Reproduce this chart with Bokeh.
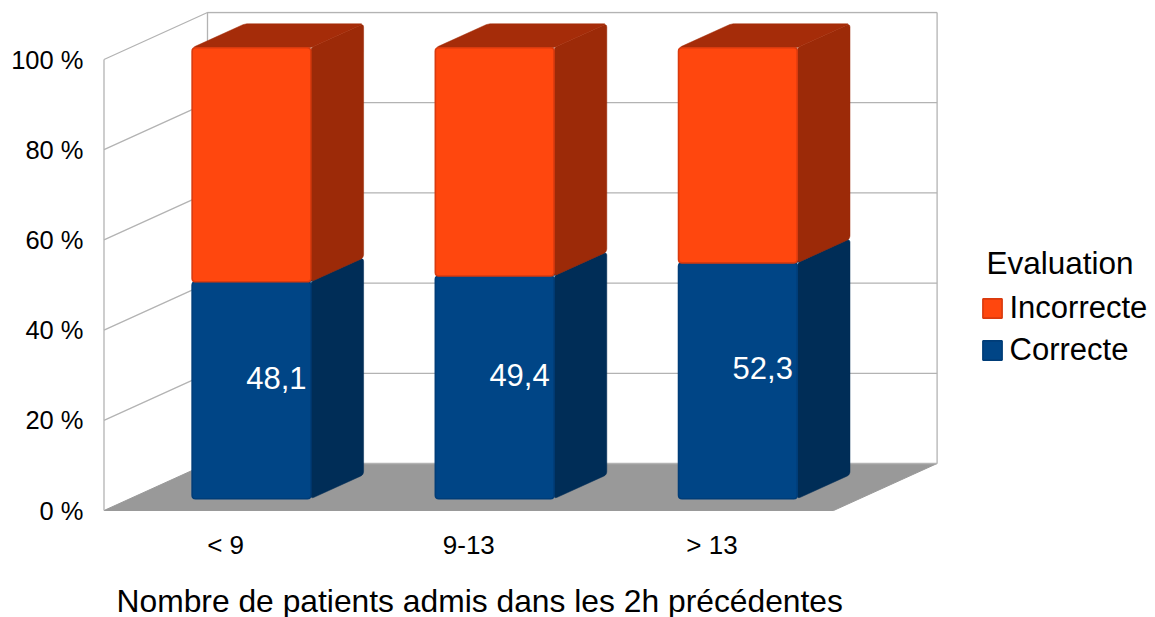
from bokeh.plotting import figure
from bokeh.embed import file_html
from bokeh.resources import INLINE
from bokeh.models import Range1d, FixedTicker, Legend, LegendItem, Label
from bokeh.core.properties import value

categories = ["< 9", "9-13", "> 13"]
correcte = [48.1, 49.4, 52.3]
incorrecte = [51.9, 50.6, 47.7]
labels = ["48,1", "49,4", "52,3"]
y_ticks = [0, 20, 40, 60, 80, 100]
x_title = "Nombre de patients admis dans les 2h précédentes"
legend_title = "Evaluation"

PX_X = 243.2            # pixels per category
PX_Y = 4.51             # pixels per percent
DX = 103.5 / PX_X       # oblique depth, in category units
DY = 47 / PX_Y          # oblique depth, in percent units
BAR_W = 0.488
FONT = "Liberation Sans"
GRID = "#b3b3b3"

p = figure(width=1155, height=617, output_backend="svg", toolbar_location=None,
           x_range=Range1d(-1.5 / PX_X, 1051.5 / PX_X),
           y_range=Range1d(-107 / PX_Y, 499 / PX_Y),
           min_border_left=102, min_border_right=0, min_border_top=11, min_border_bottom=0)
p.outline_line_color = None
p.grid.visible = False
p.background_fill_color = None
p.border_fill_color = "white"


def proj(x, y, d):
    """Oblique projection of (category position, percent, depth 0..1)."""
    return x + d * DX, y + d * DY


def rounded(pts, r=3.5):
    """Round polygon corners; pts in data units, radius in pixels."""
    out_x, out_y = [], []
    n = len(pts)
    for i in range(n):
        x0, y0 = pts[i - 1]
        x1, y1 = pts[i]
        x2, y2 = pts[(i + 1) % n]
        ax, ay = (x0 - x1) * PX_X, (y0 - y1) * PX_Y
        bx, by = (x2 - x1) * PX_X, (y2 - y1) * PX_Y
        la, lb = (ax * ax + ay * ay) ** .5, (bx * bx + by * by) ** .5
        ra, rb = min(r, la / 2) / la, min(r, lb / 2) / lb
        sx, sy = x1 + (x0 - x1) * ra, y1 + (y0 - y1) * ra
        ex, ey = x1 + (x2 - x1) * rb, y1 + (y2 - y1) * rb
        for k in range(5):
            t = k / 4
            out_x.append((1 - t) ** 2 * sx + 2 * t * (1 - t) * x1 + t * t * ex)
            out_y.append((1 - t) ** 2 * sy + 2 * t * (1 - t) * y1 + t * t * ey)
    return out_x, out_y


# floor
fx, fy = zip(proj(0, 0, 0), proj(3, 0, 0), proj(3, 0, 1), proj(0, 0, 1))
p.patch(list(fx), list(fy), fill_color="#999999", line_color="#999999", line_width=1)

# walls
for t in y_ticks:
    xs, ys = zip(proj(0, t, 0), proj(0, t, 1), proj(3, t, 1))
    if t == 0:
        xs, ys = xs[1:], ys[1:]
    p.line(list(xs), list(ys), line_color=GRID, line_width=1.3)
for x, d in ((0, 0), (0, 1), (3, 1)):
    xs, ys = zip(proj(x, 0, d), proj(x, 100, d))
    p.line(list(xs), list(ys), line_color=GRID, line_width=1.3)

D0, D1 = 0.25, 0.76


def box(i, lo, hi, front, side, top, edge):
    x0 = i + 0.5 - BAR_W / 2
    x1 = i + 0.5 + BAR_W / 2
    # side
    sx, sy = rounded([proj(x1, lo, D0), proj(x1, lo, D1), proj(x1, hi, D1), proj(x1, hi, D0)])
    p.patch(sx, sy, fill_color=side, line_color=side, line_width=0.5)
    # top
    tx, ty = rounded([proj(x0, hi, D0), proj(x1, hi, D0), proj(x1, hi, D1), proj(x0, hi, D1)])
    p.patch(tx, ty, fill_color=top, line_color=top, line_width=0.5)
    # front
    fx, fy = rounded([proj(x0, lo, D0), proj(x1, lo, D0), proj(x1, hi, D0), proj(x0, hi, D0)])
    return p.patch(fx, fy, fill_color=front, line_color=edge, line_width=1.6)


blue_r = orange_r = None
for i in range(len(categories)):
    blue_r = box(i, 0, correcte[i], "#004586", "#002d57", "#00305c", "#003d78")
    orange_r = box(i, correcte[i], correcte[i] + incorrecte[i], "#ff470e", "#9c2a08", "#a52c09", "#d93a0e")

# value labels
lx = [proj(i + 0.5, 0, 0.5)[0] for i in range(3)]
ly = [proj(0, v / 2, 0.5)[1] for v in correcte]
p.text(lx, ly, text=labels, text_color="white", text_align="center", text_baseline="middle",
       text_font=value(FONT), text_font_size="31px", x_offset=-1, y_offset=-1)

# axes
p.yaxis.ticker = FixedTicker(ticks=y_ticks)
p.yaxis.major_label_overrides = {t: f"{t} %" for t in y_ticks}
p.yaxis.major_label_text_font = FONT
p.yaxis.major_label_text_font_size = "25.5px"
p.yaxis.major_label_text_color = "#000000"
p.yaxis.major_label_standoff = 19
p.yaxis.axis_line_color = None
p.yaxis.major_tick_line_color = None
p.yaxis.minor_tick_line_color = None
p.yaxis.major_tick_out = 0
p.yaxis.major_tick_in = 0

p.xaxis.fixed_location = 0
p.xaxis.ticker = FixedTicker(ticks=[0.5, 1.5, 2.5])
p.xaxis.major_label_overrides = {i + 0.5: c for i, c in enumerate(categories)}
p.xaxis.major_label_text_font = FONT
p.xaxis.major_label_text_font_size = "26px"
p.xaxis.major_label_text_color = "#000000"
p.xaxis.major_label_standoff = 19
p.xaxis.axis_line_color = None
p.xaxis.major_tick_line_color = None
p.xaxis.minor_tick_line_color = None
p.xaxis.major_tick_out = 0
p.xaxis.major_tick_in = 0

p.add_layout(Label(x=(116 - 103.5) / PX_X, y=(510 - 600) / PX_Y, text=x_title,
                   text_font=FONT, text_font_size="31.8px", text_color="#000000",
                   text_align="left", text_baseline="middle"))

legend = Legend(items=[LegendItem(label="Incorrecte", renderers=[orange_r]),
                       LegendItem(label="Correcte", renderers=[blue_r])],
                location=(877.5, 249),
                border_line_color=None, background_fill_color=None,
                glyph_width=24, glyph_height=24, label_standoff=6, spacing=6,
                padding=0, margin=0,
                label_text_font=FONT, label_text_font_size="31px", label_text_color="#000000")
p.add_layout(legend, "center")

p.add_layout(Label(x=(986 - 103.5) / PX_X, y=(510 - 262) / PX_Y, text=legend_title,
                   text_font=FONT, text_font_size="31.5px", text_color="#000000",
                   text_align="left", text_baseline="middle"))

open("out.html", "w").write(file_html(p, INLINE))
